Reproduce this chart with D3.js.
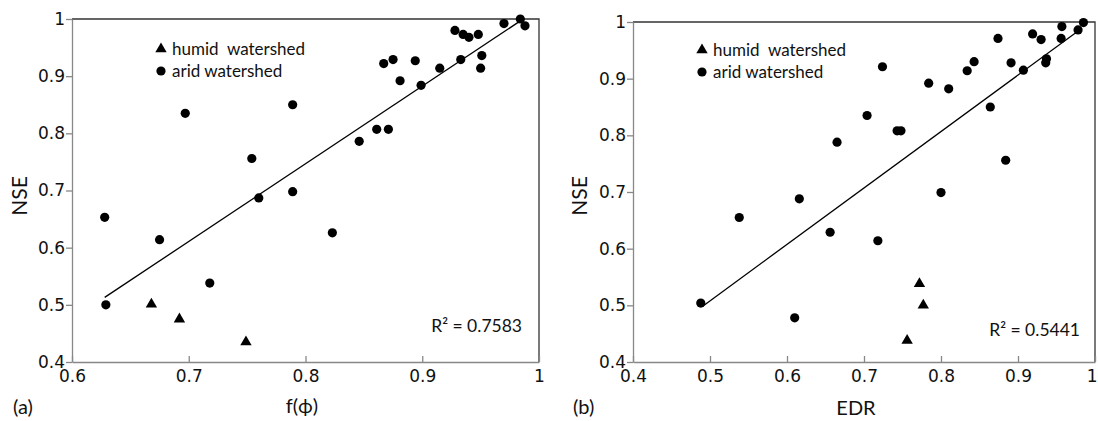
<!DOCTYPE html>
<html>
<head>
<meta charset="utf-8">
<script src="https://cdn.jsdelivr.net/npm/d3@7"></script>
<style>
  body { margin: 0; background: #fff; }
  svg { display: block; }
  .tick text { font-family: "DejaVu Sans", Verdana, sans-serif; font-size: 17px; fill: #111; }
  .lbl { font-family: Lato, "Open Sans", sans-serif; fill: #111; }
</style>
</head>
<body>
<div id="chart"></div>
<script>
// panel (a): NSE vs f(phi)
var aridA = [
  [0.628, 0.653], [0.697, 0.835], [0.754, 0.756], [0.760, 0.687], [0.789, 0.850],
  [0.789, 0.698], [0.846, 0.786], [0.861, 0.807], [0.871, 0.807], [0.867, 0.922],
  [0.875, 0.929], [0.881, 0.892], [0.894, 0.927], [0.899, 0.884], [0.915, 0.914],
  [0.928, 0.980], [0.933, 0.929], [0.935, 0.973], [0.940, 0.968], [0.948, 0.973],
  [0.951, 0.936], [0.950, 0.914], [0.970, 0.992], [0.984, 1.000], [0.988, 0.988],
  [0.675, 0.614], [0.629, 0.500], [0.718, 0.538], [0.823, 0.626]
];
var humidA = [[0.668, 0.501], [0.692, 0.475], [0.749, 0.435]];
var trendA = [[0.628, 0.513], [0.985, 0.998]];

// panel (b): NSE vs EDR
var aridB = [
  [0.616, 0.688], [0.665, 0.788], [0.538, 0.655], [0.488, 0.504], [0.610, 0.478],
  [0.656, 0.629], [0.704, 0.835], [0.724, 0.921], [0.743, 0.808], [0.748, 0.808],
  [0.784, 0.892], [0.810, 0.882], [0.800, 0.699], [0.834, 0.914], [0.843, 0.930],
  [0.864, 0.850], [0.874, 0.971], [0.884, 0.756], [0.891, 0.928], [0.907, 0.915],
  [0.919, 0.979], [0.930, 0.969], [0.937, 0.935], [0.936, 0.928], [0.957, 0.992],
  [0.956, 0.971], [0.978, 0.986], [0.985, 0.999], [0.718, 0.614]
];
var humidB = [[0.772, 0.538], [0.777, 0.500], [0.756, 0.438]];
var trendB = [[0.491, 0.499], [0.983, 0.989]];

var yTicks = [0.4, 0.5, 0.6, 0.7, 0.8, 0.9, 1];
var xTicksA = [0.6, 0.7, 0.8, 0.9, 1];
var xTicksB = [0.4, 0.5, 0.6, 0.7, 0.8, 0.9, 1];
var legendLabels = ['humid  watershed', 'arid watershed'];

var width = 1098, height = 421;
var svg = d3.select('#chart').append('svg')
  .attr('width', width)
  .attr('height', height);

function fmt(d) { return d === 1 ? '1' : d.toFixed(1); }

function drawPanel(p) {
  var x = d3.scaleLinear().domain(p.xDomain).range([p.left, p.right]);
  var y = d3.scaleLinear().domain([0.4, 1]).range([362, p.top]);
  var g = svg.append('g');

  // plot frame (top/right)
  g.append('path')
    .attr('d', 'M' + p.left + ',' + p.top + 'H' + p.right + 'V362')
    .attr('fill', 'none').attr('stroke', '#333').attr('stroke-width', 1.3);

  var yAxis = g.append('g')
    .attr('transform', 'translate(' + p.left + ',0)')
    .call(d3.axisLeft(y).tickValues(yTicks).tickFormat(fmt).tickSize(6).tickSizeOuter(0).tickPadding(1));
  yAxis.selectAll('line, path').attr('stroke', '#888').attr('stroke-width', 1.3);

  var xAxis = g.append('g')
    .attr('transform', 'translate(0,362)')
    .call(d3.axisBottom(x).tickValues(p.xTicks).tickFormat(fmt).tickSize(0).tickSizeOuter(0).tickPadding(8));
  xAxis.selectAll('path').attr('stroke', '#888').attr('stroke-width', 1.3);
  xAxis.selectAll('.tick line').attr('y2', -6).attr('stroke', '#888').attr('stroke-width', 1.3);
  // keep the last label inside the page on the right panel
  if (p.right > 1090) {
    xAxis.selectAll('.tick text').filter(function(d) { return d === 1; })
      .attr('text-anchor', 'end').attr('x', 2);
  }

  // trend line
  g.append('line')
    .attr('x1', x(p.trend[0][0])).attr('y1', y(p.trend[0][1]))
    .attr('x2', x(p.trend[1][0])).attr('y2', y(p.trend[1][1]))
    .attr('stroke', '#000').attr('stroke-width', 1.3);

  g.selectAll('circle.arid').data(p.arid).enter().append('circle')
    .attr('class', 'arid')
    .attr('cx', function(d) { return x(d[0]); })
    .attr('cy', function(d) { return y(d[1]); })
    .attr('r', 4.6)
    .attr('fill', '#000');

  var tri = d3.symbol().type(d3.symbolTriangle).size(56);
  g.selectAll('path.humid').data(p.humid).enter().append('path')
    .attr('class', 'humid')
    .attr('d', tri)
    .attr('transform', function(d) { return 'translate(' + x(d[0]) + ',' + y(d[1]) + ')'; })
    .attr('fill', '#000');

  // legend
  var lg = g.append('g').attr('transform', 'translate(' + p.legX + ',' + p.legY + ')');
  lg.append('path').attr('d', tri).attr('fill', '#000');
  lg.append('circle').attr('cx', 0).attr('cy', 22).attr('r', 4.6).attr('fill', '#000');
  lg.selectAll('text').data(legendLabels).enter().append('text')
    .attr('class', 'lbl')
    .attr('x', 11)
    .attr('y', function(d, i) { return i * 22; })
    .attr('dy', '0.35em')
    .attr('font-size', 17)
    .style('white-space', 'pre')
    .text(function(d) { return d; });

  g.append('text').attr('class', 'lbl')
    .attr('x', p.r2x).attr('y', p.r2y).attr('dy', '0.35em')
    .attr('text-anchor', 'end').attr('font-size', 17.5)
    .text(p.r2);

  g.append('text').attr('class', 'lbl')
    .attr('transform', 'translate(' + p.yLabX + ',196) rotate(-90)')
    .attr('text-anchor', 'middle').attr('dy', '0.35em').attr('font-size', 21)
    .text('NSE');

  g.append('text').attr('class', 'lbl')
    .attr('x', p.xLabX).attr('y', p.xLabY).attr('dy', '0.35em')
    .attr('text-anchor', 'middle').attr('font-size', 20)
    .text(p.xLabel);

  g.append('text').attr('class', 'lbl')
    .attr('x', p.tagX).attr('y', 407).attr('dy', '0.35em')
    .attr('font-size', 20)
    .text(p.tag);
}

drawPanel({
  xDomain: [0.6, 1], xTicks: xTicksA, left: 72, right: 539, top: 19,
  arid: aridA, humid: humidA, trend: trendA,
  legX: 161, legY: 49, r2: 'R² = 0.7583', r2x: 522, r2y: 326,
  yLabX: 20, xLabX: 302, xLabY: 406, xLabel: 'f(ϕ)', tagX: 13, tag: '(a)'
});

drawPanel({
  xDomain: [0.4, 1], xTicks: xTicksB, left: 633, right: 1095, top: 22,
  arid: aridB, humid: humidB, trend: trendB,
  legX: 702, legY: 50, r2: 'R² = 0.5441', r2x: 1080, r2y: 330,
  yLabX: 580, xLabX: 856, xLabY: 408, xLabel: 'EDR', tagX: 573, tag: '(b)'
});
</script>
</body>
</html>
